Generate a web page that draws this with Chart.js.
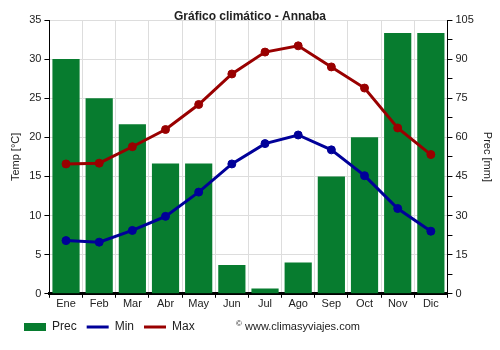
<!DOCTYPE html>
<html>
<head>
<meta charset="utf-8">
<script src="https://cdn.jsdelivr.net/npm/chart.js@4"></script>
<style>
  html, body { margin: 0; padding: 0; background: #fff; }
  #wrap { width: 500px; height: 350px; }
</style>
</head>
<body>
<div id="wrap"><canvas id="climateChart" width="500" height="350"></canvas></div>
<script>
const months = ['Ene', 'Feb', 'Mar', 'Abr', 'May', 'Jun', 'Jul', 'Ago', 'Sep', 'Oct', 'Nov', 'Dic'];
const precip = [90, 75, 65, 50, 50, 11, 2, 12, 45, 60, 100, 100];
const tempMin = [6.8, 6.6, 8.1, 9.9, 13.0, 16.6, 19.2, 20.3, 18.4, 15.1, 10.9, 8.0];
const tempMax = [16.6, 16.7, 18.8, 21.0, 24.2, 28.1, 30.9, 31.7, 29.0, 26.3, 21.2, 17.8];
const tempTicks = [0, 5, 10, 15, 20, 25, 30, 35];
const precTicks = [0, 15, 30, 45, 60, 75, 90, 105];

const FONT = 'Liberation Sans, Arial, sans-serif';
const TEXT = '#222';

// title + watermark drawn on the canvas, legend nudged right
const extraText = {
  id: 'extraText',
  afterLayout(chart) {
    chart.legend.left += 9;
  },
  afterDraw(chart) {
    const ctx = chart.ctx;
    ctx.save();
    ctx.fillStyle = TEXT;
    ctx.textBaseline = 'middle';
    ctx.textAlign = 'center';
    ctx.font = 'bold 12px ' + FONT;
    ctx.fillText('Gráfico climático - Annaba', 250, 17);
    ctx.textAlign = 'left';
    ctx.font = '8px ' + FONT;
    ctx.fillText('©', 236, 324);
    ctx.font = '11px ' + FONT;
    ctx.fillText('www.climasyviajes.com', 245, 327);
    ctx.restore();
  }
};

new Chart(document.getElementById('climateChart'), {
  type: 'bar',
  data: {
    labels: months,
    datasets: [
      {
        type: 'bar',
        label: 'Prec',
        data: precip,
        yAxisID: 'y2',
        backgroundColor: '#077c2f',
        borderWidth: 0,
        barPercentage: 0.82,
        categoryPercentage: 1,
        order: 3
      },
      {
        type: 'line',
        label: 'Min',
        data: tempMin,
        yAxisID: 'y',
        borderColor: '#000099',
        backgroundColor: '#000099',
        borderWidth: 3,
        pointRadius: 4,
        pointBorderWidth: 1,
        pointHoverRadius: 4,
        tension: 0,
        order: 1
      },
      {
        type: 'line',
        label: 'Max',
        data: tempMax,
        yAxisID: 'y',
        borderColor: '#990000',
        backgroundColor: '#990000',
        borderWidth: 3,
        pointRadius: 4,
        pointBorderWidth: 1,
        pointHoverRadius: 4,
        tension: 0,
        order: 2
      }
    ]
  },
  options: {
    responsive: false,
    animation: false,
    devicePixelRatio: 1,
    layout: { padding: { left: 5, right: 2, top: 20, bottom: 7 } },
    plugins: {
      title: { display: false },
      tooltip: { enabled: false },
      legend: {
        position: 'bottom',
        align: 'start',
        labels: {
          usePointStyle: true,
          pointStyleWidth: 22,
          boxHeight: 8,
          padding: 10,
          color: TEXT,
          font: { family: FONT, size: 12 },
          sort: (a, b) => a.datasetIndex - b.datasetIndex,
          generateLabels(chart) {
            const items = Chart.defaults.plugins.legend.labels.generateLabels(chart);
            items.forEach(item => {
              item.pointStyle = item.datasetIndex === 0 ? 'rect' : 'line';
              item.lineWidth = item.datasetIndex === 0 ? 0 : 3;
            });
            return items;
          }
        }
      }
    },
    scales: {
      x: {
        offset: true,
        grid: { offset: true, color: '#dddddd', tickColor: '#000', tickLength: 4 },
        border: { color: '#000', width: 3 },
        ticks: { color: TEXT, font: { family: FONT, size: 11 }, padding: 0 }
      },
      y: {
        position: 'left',
        min: 0,
        max: 35,
        afterBuildTicks(scale) { scale.ticks = tempTicks.map(v => ({ value: v })); },
        grid: { color: '#dddddd', tickColor: '#000', tickLength: 5 },
        border: { color: '#000', width: 1 },
        ticks: { color: TEXT, font: { family: FONT, size: 11 }, padding: 3 },
        title: { display: true, text: 'Temp [°C]', color: TEXT, font: { family: FONT, size: 11 }, padding: 4 }
      },
      y2: {
        position: 'right',
        min: 0,
        max: 105,
        ticks: {
          stepSize: 7.5,
          color: TEXT,
          font: { family: FONT, size: 11 },
          padding: 3,
          callback: v => (precTicks.includes(v) ? v : '')
        },
        grid: { drawOnChartArea: false, tickColor: '#000', tickLength: 5 },
        border: { color: '#000', width: 1 },
        title: { display: true, text: 'Prec [mm]', color: TEXT, font: { family: FONT, size: 11 }, padding: 4 }
      }
    }
  },
  plugins: [extraText]
});
</script>
</body>
</html>
